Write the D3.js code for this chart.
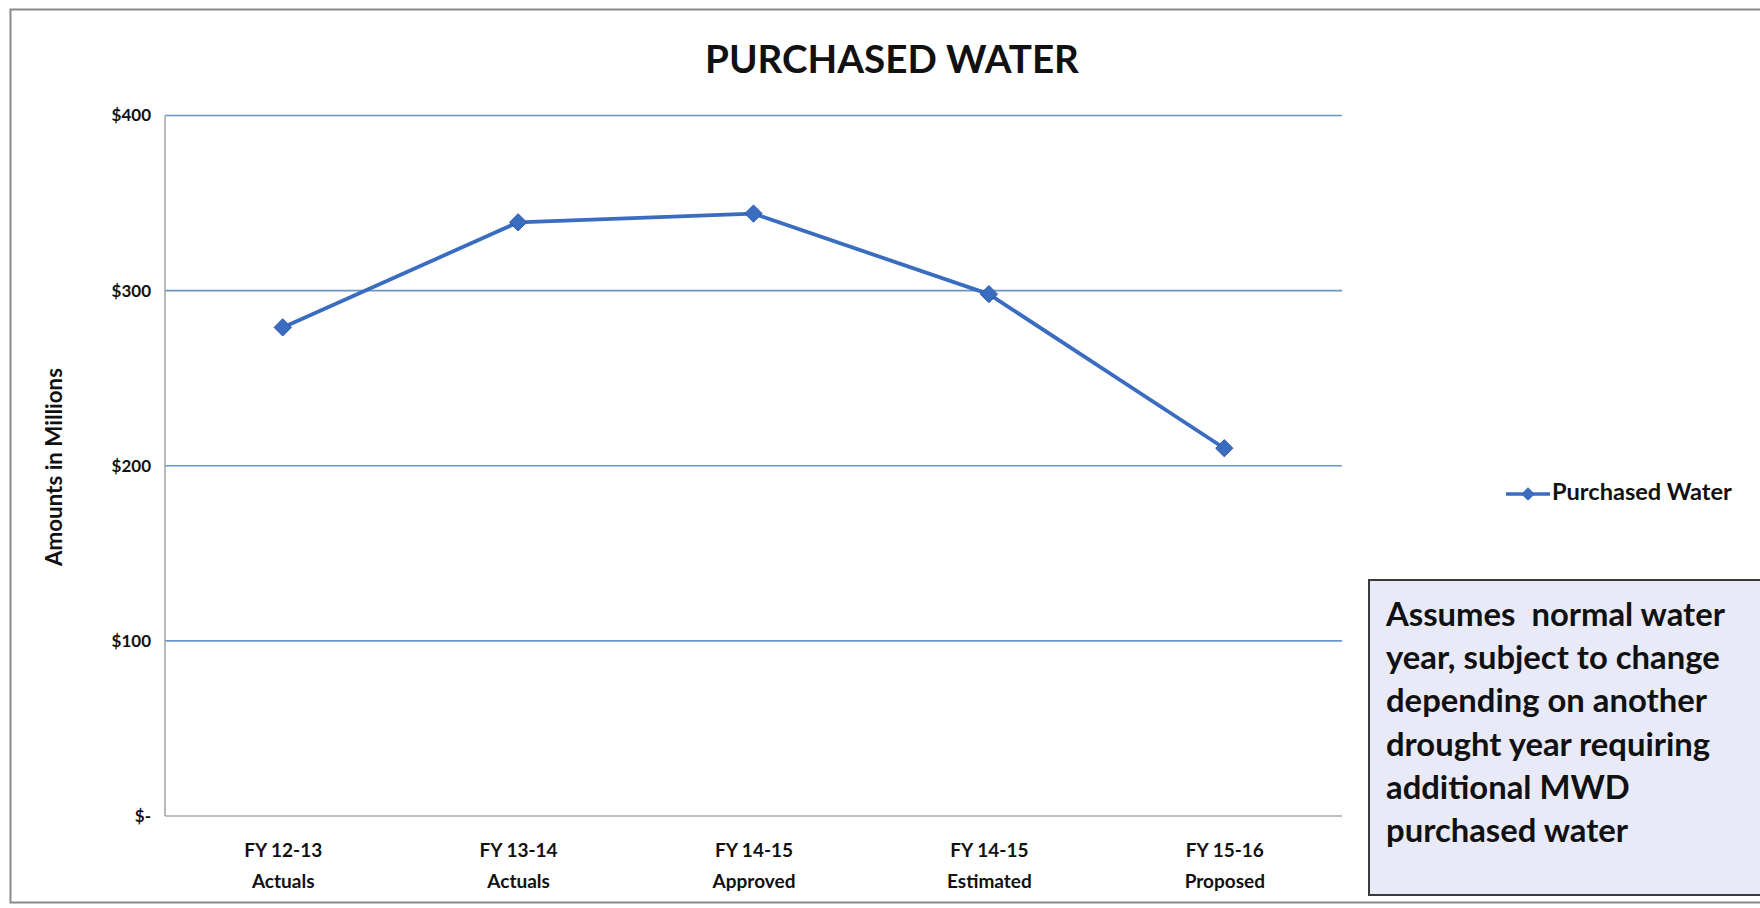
<!DOCTYPE html>
<html><head><meta charset="utf-8">
<script src="https://cdn.jsdelivr.net/npm/d3@7"></script>
<style>
html,body{margin:0;padding:0;background:#fff;overflow:hidden}
text{font-family:Lato,"Open Sans",sans-serif;font-weight:bold;fill:#111}
</style></head>
<body><svg id="c" width="1760" height="908"></svg>
<script>
const categories = ["FY 12-13|Actuals","FY 13-14|Actuals","FY 14-15|Approved","FY 14-15|Estimated","FY 15-16|Proposed"];
const values = [279, 339, 344, 298, 210];
const yTicks = [0, 100, 200, 300, 400];
const yTickLabels = ["$-", "$100", "$200", "$300", "$400"];
const seriesName = "Purchased Water";
const title = "PURCHASED WATER";
const yTitle = "Amounts in Millions";
const noteLines = ["Assumes  normal water","year, subject to change","depending on another","drought year requiring","additional MWD","purchased water"];

const svg = d3.select("#c");
const plot = {left:165, right:1342, top:115.5, bottom:816};
const lineColor = "#3a6cc0";

function fit(sel, target){
  const n = sel.node(); let fs = parseFloat(sel.style("font-size"));
  const w = n.getComputedTextLength(); sel.style("font-size", (fs*target/w)+"px");
}

// outer frame
svg.append("rect").attr("x",10.5).attr("y",9.5).attr("width",1800).attr("height",893)
  .attr("fill","none").attr("stroke","#8a8a8a").attr("stroke-width",2);

const x = d3.scalePoint().domain(categories).range([plot.left, plot.right]).padding(0.5);
const y = d3.scaleLinear().domain([0,400]).range([plot.bottom, plot.top]);

// gridlines
svg.append("g").selectAll("line").data(yTicks.filter(d=>d>0)).join("line")
  .attr("x1",plot.left).attr("x2",plot.right).attr("y1",d=>y(d)).attr("y2",d=>y(d))
  .attr("stroke","#6a95c6").attr("stroke-width",1.6);

// axes lines
svg.append("line").attr("x1",plot.left).attr("x2",plot.left).attr("y1",plot.top).attr("y2",plot.bottom)
  .attr("stroke","#a8a8a8").attr("stroke-width",1.6);
svg.append("line").attr("x1",plot.left).attr("x2",plot.right).attr("y1",plot.bottom).attr("y2",plot.bottom)
  .attr("stroke","#a8a8a8").attr("stroke-width",1.6);

// y axis labels
const yAxis = d3.axisLeft(y).tickValues(yTicks).tickFormat((d,i)=>yTickLabels[i]).tickSize(0).tickPadding(14);
const gy = svg.append("g").attr("transform",`translate(${plot.left},0)`).call(yAxis);
gy.select(".domain").remove();
gy.selectAll("text").style("font-size","17px").style("font-family","Lato,sans-serif").style("font-weight","bold").attr("fill","#111");

// x axis labels
const xAxis = d3.axisBottom(x).tickSize(0).tickFormat("");
const gx = svg.append("g").attr("transform",`translate(0,${plot.bottom})`).call(xAxis);
gx.select(".domain").remove();
gx.selectAll(".tick").each(function(d){
  const parts = d.split("|");
  const t = d3.select(this);
  parts.forEach((p,i)=>{
    t.append("text").attr("x",0).attr("y",41+i*31).attr("text-anchor","middle")
      .style("font-size","19px").text(p);
  });
});

// line
const line = d3.line().x((d,i)=>x(categories[i])).y(d=>y(d));
svg.append("path").datum(values).attr("d",line).attr("fill","none")
  .attr("stroke",lineColor).attr("stroke-width",3.8).attr("stroke-linejoin","round");
const diamond = d3.symbol().type(d3.symbolDiamond2).size(190);
svg.append("g").selectAll("path").data(values).join("path")
  .attr("d",diamond).attr("transform",(d,i)=>`translate(${x(categories[i])},${y(d)})`)
  .attr("fill",lineColor).attr("stroke","#2d5aa6").attr("stroke-width",1);

// title
const tt = svg.append("text").attr("x",892).attr("y",73).attr("text-anchor","middle")
  .style("font-size","38px").text(title);
fit(tt, 374);

// y title
const yt = svg.append("text").attr("transform","translate(62,467) rotate(-90)").attr("text-anchor","middle")
  .style("font-size","17px").text(yTitle);
fit(yt, 198);

// legend
const lg = svg.append("g");
lg.append("line").attr("x1",1506).attr("x2",1550).attr("y1",494).attr("y2",494)
  .attr("stroke",lineColor).attr("stroke-width",3.5);
lg.append("path").attr("d",d3.symbol().type(d3.symbolDiamond2).size(120)).attr("transform","translate(1528,494)")
  .attr("fill",lineColor);
const lt = lg.append("text").attr("x",1552).attr("y",500).style("font-size","17px").text(seriesName);
fit(lt, 180);

// note box
svg.append("rect").attr("x",1369).attr("y",580).attr("width",420).attr("height",315)
  .attr("fill","#e8eaf8").attr("stroke","#3a3a3a").attr("stroke-width",2);
const nt = svg.append("g");
const first = nt.append("text").attr("x",1386).attr("y",626).style("font-size","30px").style("white-space","pre").text(noteLines[0]);
fit(first, 339);
const fs = first.style("font-size");
noteLines.slice(1).forEach((l,i)=>{
  nt.append("text").attr("x",1386).attr("y",626+(i+1)*43.2).style("font-size",fs).text(l);
});
</script></body></html>
